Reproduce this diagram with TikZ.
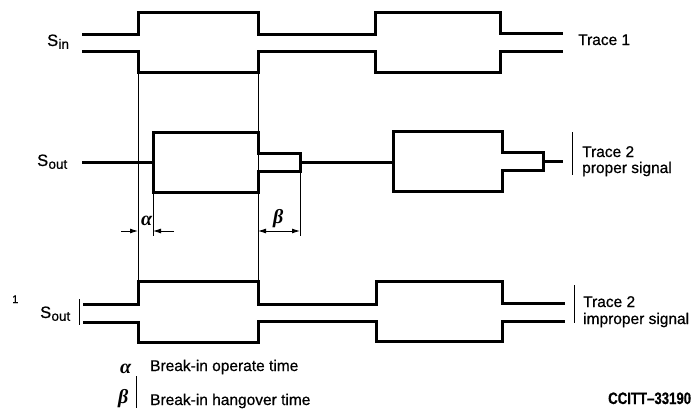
\documentclass[tikz,border=0pt]{standalone}
\usepackage{fontspec}
\usepackage{graphicx}
\setmainfont{Liberation Sans}[FakeBold=0.7]
\newfontfamily\grk{Liberation Serif}
\usetikzlibrary{arrows.meta}
\newcommand{\subtxt}[1]{\kern0.3pt\raisebox{-2.8pt}{\fontsize{13.5}{14}\selectfont #1}}
\begin{document}
\begin{tikzpicture}[x=1pt,y=-1pt,
  wave/.style={line width=3pt, line join=miter, line cap=butt},
  guide/.style={line width=0.9pt},
  bar/.style={line width=0.9pt},
  lbl/.style={inner sep=0pt, anchor=base west, font=\fontsize{15.5}{16}\selectfont},
  sig/.style={inner sep=0pt, anchor=base west, font=\fontsize{16.5}{17}\selectfont},
  greek/.style={inner sep=0pt, anchor=base west, font=\grk\bfseries\itshape\fontsize{20}{20}\selectfont},
  tip/.tip={Latex[length=8pt,width=5pt]},
  dimarrow/.style={guide, -tip},
]
\useasboundingbox (0,0) rectangle (697,410);

% Trace 1 (S_in)
\draw[wave] (82,34) -| (138,12) -| (258,34) -| (375,12) -| (500,33) -- (563,33);
\draw[wave] (82,51) -| (138,72) -| (258,51) -| (375,72) -| (500,51) -- (563,51);

% Trace 2 (proper)
\draw[wave] (82,162) -- (153,162);
\draw[wave] (153,132) -- (258,132) -- (258,153) -- (300,153) -- (300,171) -- (258,171) -- (258,192) -- (153,192) -- cycle;
\draw[wave] (300,162) -- (393,162);
\draw[wave] (393,131) -- (502,131) -- (502,152) -- (543,152) -- (543,170) -- (502,170) -- (502,191) -- (393,191) -- cycle;
\draw[wave] (543,161) -- (563,161);

% Trace 3 (improper)
\draw[wave] (83,304) -| (138,281) -| (258,304) -| (376,281) -| (502,303) -- (565,303);
\draw[wave] (83,322) -| (138,342) -| (258,321) -| (376,341) -| (502,321) -- (565,321);

% guide lines
\draw[guide] (138,72) -- (138,281);
\draw[guide] (258,72) -- (258,281);
\draw[guide] (153,192) -- (153,236);
\draw[guide] (300,171) -- (300,236);

% dimension arrows
\coordinate (a0) at (121,231);
\coordinate (a1) at (138,231);
\coordinate (a2) at (153,231);
\coordinate (a3) at (174,231);
\coordinate (b1) at (258,231);
\coordinate (b2) at (300,231);
\draw[dimarrow] (a0) -- (a1);
\draw[dimarrow] (a3) -- (a2);
\draw[guide, tip-tip] (b1) -- (b2);
\node[greek] (alab) at (141,225) {α};
\node[greek] (blab) at (273,223) {β};

% bars
\draw[bar] (572,132) -- (572,175);
\draw[bar] (574,285) -- (574,323);
\draw[bar] (79,299) -- (79,325);
\draw[bar] (136,376) -- (136,408);

% signal labels
\node[sig] (sin) at (47,46) {S\subtxt{in}};
\node[sig] (sout1) at (37,166) {S\subtxt{out}};
\node[sig] (sout2) at (40,318) {S\subtxt{out}};
\node[inner sep=0pt, anchor=base west, font=\fontsize{11}{11}\selectfont] (one) at (12,303) {1};

% trace labels
\node[lbl] (t1) at (578,45) {Trace 1};
\node[lbl] (t2a) at (582,157) {Trace 2};
\node[lbl] (t2b) at (582,173) {proper signal};
\node[lbl] (t3a) at (583,307) {Trace 2};
\node[lbl] (t3b) at (583,324) {improper signal};

% legend
\node[greek] (la) at (120,373) {α};
\node[lbl] (lat) at (150,371) {Break-in operate time};
\node[greek] (lb) at (118,403) {β};
\node[lbl] (lbt) at (150,405) {Break-in hangover time};

% reference
\node[inner sep=0pt, anchor=base west] (cc) at (608,404) {\scalebox{0.8}[1]{\fontsize{16.5}{17}\selectfont\bfseries CCITT–33190}};
\end{tikzpicture}
\end{document}
